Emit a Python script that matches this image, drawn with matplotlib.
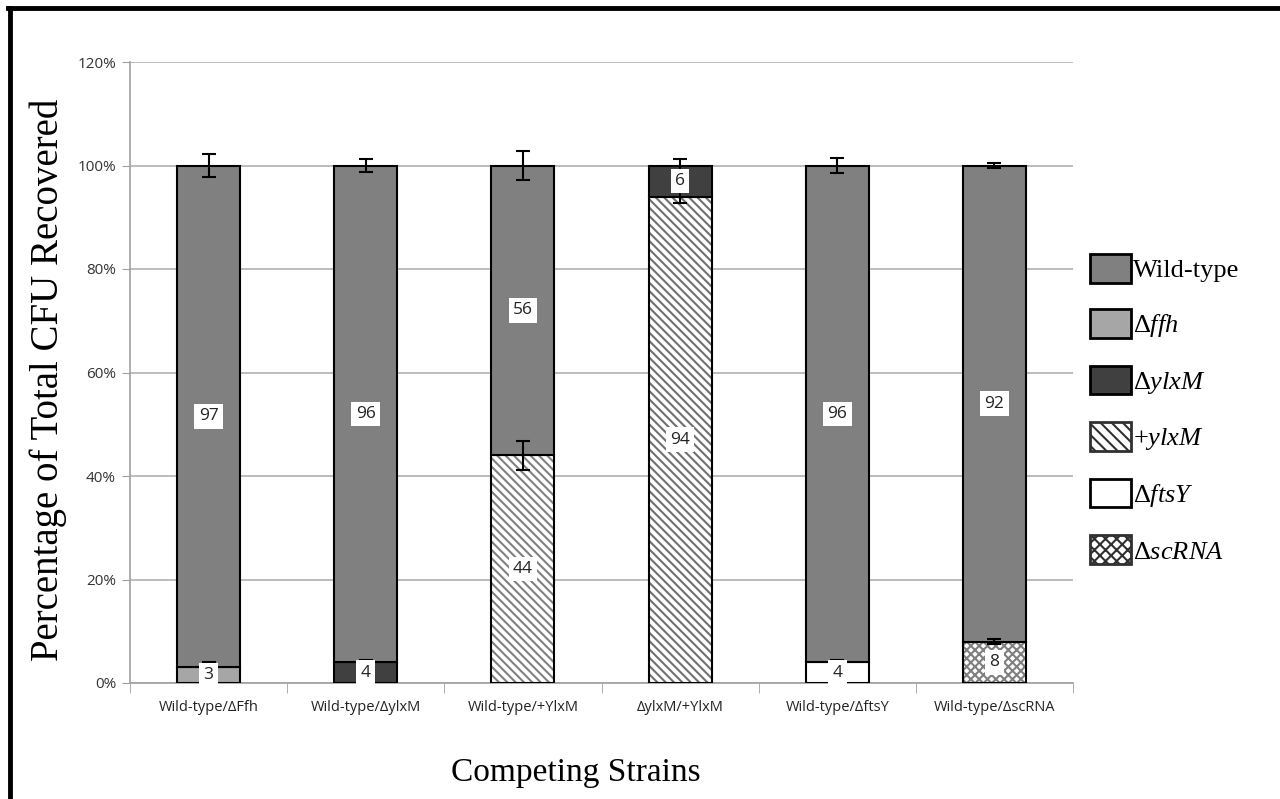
import matplotlib
matplotlib.use("Agg")
import matplotlib.pyplot as plt
from matplotlib.lines import Line2D
from matplotlib.patches import Patch
import numpy as np

# data
strains = ["Wild-type/ΔFfh", "Wild-type/ΔylxM", "Wild-type/+YlxM",
           "ΔylxM/+YlxM", "Wild-type/ΔftsY", "Wild-type/ΔscRNA"]
bottom_vals = [3, 4, 44, 94, 4, 8]          # lower segment of each bar
top_vals = [97, 96, 56, 6, 96, 92]          # upper segment of each bar
bottom_err = [1.0, 0.5, 2.8, 1.3, 0.4, 0.5]
top_err = [2.3, 1.3, 2.8, 1.3, 1.4, 0.5]
bottom_kind = ["dffh", "dylxm", "pylxm", "pylxm2", "dftsy", "dscrna"]
top_kind = ["wt", "wt", "wt", "dylxm", "wt", "wt"]

legend_labels = ["Wild-type", r"$\Delta\mathit{ffh}$", r"$\Delta\mathit{ylxM}$",
                 r"$+\mathit{ylxM}$", r"$\Delta\mathit{ftsY}$", r"$\Delta\mathit{scRNA}$"]

styles = {
    "wt": dict(fc="#808080", hatch=None, hc=None),
    "dffh": dict(fc="#a6a6a6", hatch=None, hc=None),
    "dylxm": dict(fc="#404040", hatch=None, hc=None),
    "pylxm": dict(fc="white", hatch="\\\\\\\\", hc="#808080"),
    "pylxm2": dict(fc="white", hatch="\\\\\\\\", hc="#707070"),
    "dftsy": dict(fc="white", hatch=None, hc=None),
    "dscrna": dict(fc="white", hatch="xxxx", hc="#808080"),
}

plt.rcParams["mathtext.fontset"] = "custom"
plt.rcParams["mathtext.rm"] = "Liberation Serif"
plt.rcParams["mathtext.it"] = "Liberation Serif:italic"
plt.rcParams["hatch.linewidth"] = 1.5

fig = plt.figure(figsize=(12.8, 7.99), dpi=100)
ax = fig.add_axes([130 / 1280, 1 - 683 / 799, 943 / 1280, 621 / 799])

x = np.arange(len(strains))
w = 0.4


def draw_seg(xi, bottom, height, kind):
    st = styles[kind]
    if st["hatch"]:
        ax.bar(xi, height, w, bottom=bottom, color=st["fc"], hatch=st["hatch"],
               edgecolor=st["hc"], linewidth=0, zorder=2)
        ax.bar(xi, height, w, bottom=bottom, fill=False, edgecolor="black",
               linewidth=1.5, zorder=3)
    else:
        ax.bar(xi, height, w, bottom=bottom, color=st["fc"], edgecolor="black",
               linewidth=1.5, zorder=3)


for i in range(len(strains)):
    draw_seg(x[i], 0, bottom_vals[i], bottom_kind[i])
    draw_seg(x[i], bottom_vals[i], top_vals[i], top_kind[i])

tops = np.array(bottom_vals) + np.array(top_vals)
ax.errorbar(x, tops, yerr=top_err, fmt="none", ecolor="black", elinewidth=1.5,
            capsize=5, capthick=1.5, zorder=4)
ax.errorbar(x, bottom_vals, yerr=bottom_err, fmt="none", ecolor="black",
            elinewidth=1.5, capsize=5, capthick=1.5, zorder=4)

for i in range(len(strains)):
    for val, mid in [(bottom_vals[i], bottom_vals[i] / 2),
                     (top_vals[i], bottom_vals[i] + top_vals[i] / 2)]:
        ax.text(x[i], mid, str(val), ha="center", va="center", fontsize=12.5,
                family="Open Sans", color="#222222", zorder=5,
                bbox=dict(boxstyle="square,pad=0.25", fc="white", ec="none"))

ax.set_ylim(0, 120)
ax.set_xlim(-0.5, len(strains) - 0.5)
ax.set_yticks(np.arange(0, 121, 20))
ax.set_yticklabels([f"{v}%" for v in range(0, 121, 20)], family="Open Sans",
                   fontsize=11, color="#333333")
ax.set_xticks(x)
ax.set_xticklabels(strains, family="Open Sans", fontsize=10.5, color="#222222")
ax.set_xticks(np.arange(-0.5, len(strains)), minor=True)
ax.tick_params(axis="x", which="major", length=0, pad=12)
ax.tick_params(axis="x", which="minor", length=7, color="#a0a0a0")
ax.tick_params(axis="y", length=6, color="#a0a0a0", pad=4)
ax.grid(axis="y", color="#b0b0b0", linewidth=1.2, zorder=0)
ax.set_axisbelow(True)
for s in ["top", "right"]:
    ax.spines[s].set_visible(False)
for s in ["left", "bottom"]:
    ax.spines[s].set_color("#a0a0a0")
    ax.spines[s].set_linewidth(1.2)

ax.set_ylabel("Percentage of Total CFU Recovered", family="Liberation Serif",
              fontsize=28)
ax.yaxis.set_label_coords(-82 / 943, (683 - 380) / 621)
ax.yaxis.label.set_va("center")
ax.set_xlabel("Competing Strains", family="Liberation Serif", fontsize=24)
ax.xaxis.set_label_coords((576 - 130) / 943, -(773 - 683) / 621)
ax.xaxis.label.set_va("center")

handles = []
for k in ["wt", "dffh", "dylxm", "pylxm", "dftsy", "dscrna"]:
    st = styles[k]
    if st["hatch"]:
        handles.append(Patch(facecolor="white", edgecolor="#303030", hatch=st["hatch"][:3],
                             linewidth=2))
    else:
        handles.append(Patch(facecolor=st["fc"], edgecolor="black", linewidth=2))
leg = fig.legend(handles, legend_labels, loc="upper left",
                 bbox_to_anchor=(1066 / 1280, 1 - 230 / 799), frameon=False,
                 prop={"family": "Liberation Serif", "size": 19},
                 handlelength=1.55, handleheight=1.3, labelspacing=1.0,
                 handletextpad=0.1)

fig.add_artist(Line2D([10 / 1280, 10 / 1280], [0, 1 - 8 / 799], color="black", lw=3.5))
fig.add_artist(Line2D([8 / 1280, 1], [1 - 8 / 799, 1 - 8 / 799], color="black", lw=3.5))

fig.savefig("out.png", dpi=100)
